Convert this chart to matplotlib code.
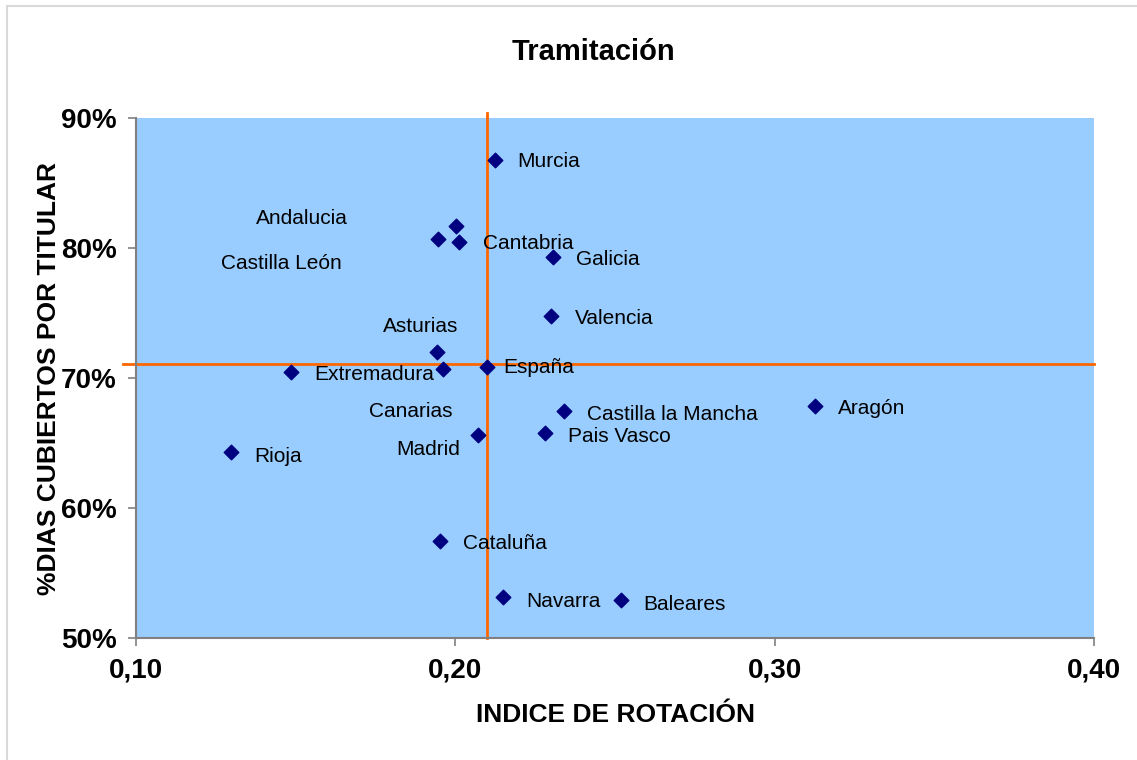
import matplotlib.pyplot as plt
import matplotlib.patches as mpatches
from matplotlib.ticker import FuncFormatter, MultipleLocator

plt.rcParams['font.family'] = ['Liberation Sans', 'DejaVu Sans']

# Comunidades: indice de rotacion vs % dias cubiertos por titular
regions = ["Murcia", "Andalucia", "Castilla León", "Cantabria", "Galicia",
           "Valencia", "Asturias", "Extremadura", "Canarias", "España",
           "Castilla la Mancha", "Aragón", "Pais Vasco", "Madrid", "Rioja",
           "Cataluña", "Navarra", "Baleares"]
rotation = [0.2124, 0.2002, 0.1946, 0.2012, 0.2306,
            0.2300, 0.1943, 0.1485, 0.1961, 0.2099,
            0.2340, 0.3127, 0.2280, 0.2071, 0.1298,
            0.1952, 0.2149, 0.2519]
coverage = [86.8, 81.7, 80.7, 80.5, 79.3,
            74.8, 72.0, 70.5, 70.7, 70.85,
            67.45, 67.85, 65.75, 65.6, 64.3,
            57.5, 53.15, 52.9]

# label offsets in pixels (manual placement as in the original)
label_dx = [22, -200, -217, 24, 23, 24, -54, 23, -74, 16, 23, 23, 23, -82, 23, 23, 23, 22]
label_dy = [-2, 7, -25, -2, -2, -3, 26, -3, -43, -1, -3, -3, -3, -14, -4, -3, -4, -4]

# reference lines (España average)
ref_x = 0.21
ref_y = 71.1

fig = plt.figure(figsize=(11.37, 7.6), dpi=100)
ax = fig.add_axes([0.1196, 0.1605, 0.8426, 0.6842])
ax.set_facecolor('#99CCFF')

# light frame around the chart
fig.patches.append(mpatches.Rectangle((7 / 1137, -0.1), 1.2, 1 - 6 / 760 + 0.1,
                                      transform=fig.transFigure, fill=False,
                                      edgecolor='#D9D9D9', linewidth=1.5))

ax.scatter(rotation, coverage, marker='D', s=55, color='#000080', zorder=3)

for name, x, y, dx, dy in zip(regions, rotation, coverage, label_dx, label_dy):
    ax.annotate(name, (x, y), xytext=(dx, dy), textcoords='offset pixels',
                ha='left', va='center', fontsize=15, color='black')

ax.plot([ref_x, ref_x], [50, 90.4], color='#FF6600', linewidth=2, clip_on=False, zorder=2)
ax.plot([0.096, 0.40], [ref_y, ref_y], color='#FF6600', linewidth=2, clip_on=False, zorder=2)

ax.set_xlim(0.10, 0.40)
ax.set_ylim(50, 90)
ax.xaxis.set_major_locator(MultipleLocator(0.10))
ax.yaxis.set_major_locator(MultipleLocator(10))
ax.xaxis.set_major_formatter(FuncFormatter(lambda v, p: f"{v:.2f}".replace('.', ',')))
ax.yaxis.set_major_formatter(FuncFormatter(lambda v, p: f"{v:.0f}%"))

for side in ['top', 'right']:
    ax.spines[side].set_visible(False)
for side in ['left', 'bottom']:
    ax.spines[side].set_color('#808080')
    ax.spines[side].set_linewidth(1.5)
ax.tick_params(direction='out', length=6, width=1.2, color='#808080', labelsize=20, pad=8)
for lbl in ax.get_xticklabels() + ax.get_yticklabels():
    lbl.set_fontweight('bold')

ax.set_xlabel("INDICE DE ROTACIÓN", fontsize=19, fontweight='bold', labelpad=14)
ax.set_ylabel("%DIAS CUBIERTOS POR TITULAR", fontsize=19, fontweight='bold', labelpad=0)
fig.text(593 / 1137, 1 - 52 / 760, "Tramitación", fontsize=21, fontweight='bold',
         ha='center', va='center')

fig.savefig("out.png", dpi=100)
